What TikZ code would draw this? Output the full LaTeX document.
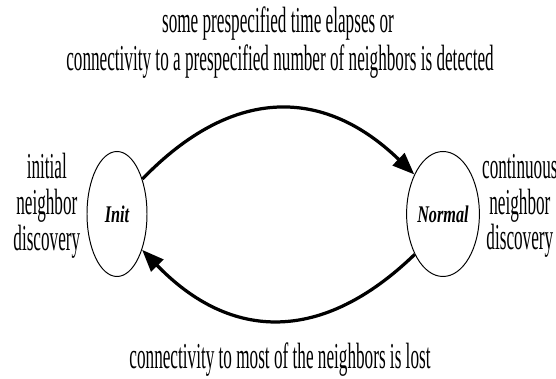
\documentclass[tikz,border=0pt]{standalone}
\usepackage{fontspec}
\setmainfont{Liberation Serif}[FakeStretch=0.47]
\newfontfamily\statefont{Liberation Serif}[FakeStretch=0.68]
\usepackage{tikz}
\usetikzlibrary{arrows.meta,positioning,shapes.geometric}

\begin{document}
\begin{tikzpicture}[->,>={Triangle[length=5.5mm,width=4.2mm]},
      every node/.style={font=\fontsize{26}{25.5}\selectfont,inner sep=0pt},
      state/.style={ellipse,draw,line width=0.7pt,minimum width=1.5cm,minimum height=3.125cm,
        font=\statefont\fontsize{17}{18}\selectfont\bfseries\itshape},
      phase/.style={align=center},
      flow/.style={line width=2.3pt,looseness=1.2}]
      \useasboundingbox (0,0) rectangle (13.9,9.475);

      \node[state] (init) at (2.925,4.125) {Init};
      \node[state] (normal) at (11.075,4.125) {Normal};
      \node[phase] (initlbl) [left=1.5mm of init,yshift=2mm] {initial\\neighbor\\discovery};
      \node[phase] (normallbl) [right=0.5mm of normal,yshift=2mm] {continuous\\neighbor\\discovery};

      \node[anchor=base] (cond2) at (7.0,7.7) {connectivity to a prespecified number of neighbors is detected};
      \node[anchor=base] (cond1) at (6.95,8.65) {some prespecified time elapses or};
      \node[anchor=base] (lost) at (7.0,0.25) {connectivity to most of the neighbors is lost};

      \path
        (init.54) edge [flow,bend left=45] (normal.126)
        (normal.235) edge [flow,bend left=45] (init.-55);
    \end{tikzpicture}
\end{document}
